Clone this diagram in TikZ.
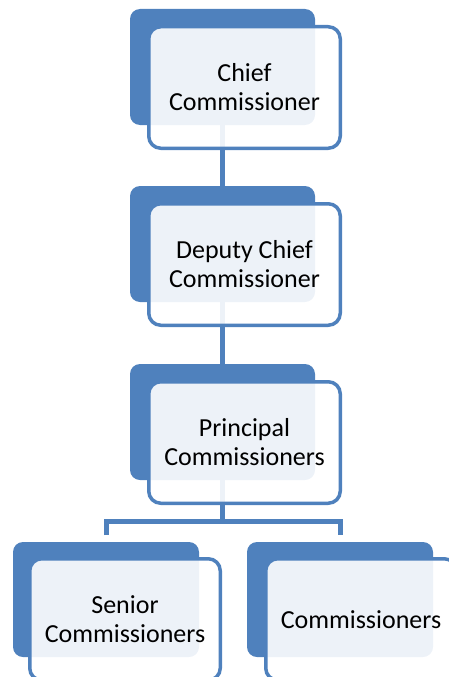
\documentclass[tikz,border=0pt]{standalone}
\usepackage{fontspec}
\setmainfont{Carlito}
\pgfdeclarelayer{links}
\pgfsetlayers{links,main}
\definecolor{accent}{RGB}{79,129,189}
\tikzset{
  backcard/.style={rectangle, rounded corners=10pt, fill=accent, draw=none,
    minimum width=185pt, minimum height=116pt, inner sep=0pt},
  frontcard/.style={rectangle, rounded corners=12pt, draw=accent, line width=3.5pt,
    fill=white, fill opacity=0.9, text opacity=1,
    minimum width=191.5pt, minimum height=121.5pt, inner sep=0pt,
    align=center, font=\fontsize{26}{29}\selectfont},
  link/.style={draw=accent, line width=5pt},
}
\begin{document}
\begin{tikzpicture}[x=1pt,y=-1pt]
  \useasboundingbox (0,0) rectangle (449,677);
  \begin{scope}
    \clip (0,0) rectangle (449,677);
    % top-down chain of cards
    \node[backcard] (b1) at (222.5,67) {};
    \node[frontcard] (f1) at (244.5,87.5) {Chief\\Commissioner};
    \node[backcard] (b2) at (222.5,244) {};
    \node[frontcard] (f2) at (244.5,264.5) {Deputy Chief\\Commissioner};
    \node[backcard] (b3) at (222.5,422) {};
    \node[frontcard] (f3) at (244.5,442.5) {Principal\\Commissioners};
    % two cards on the lowest level
    \node[backcard, minimum width=186pt, minimum height=115pt] (b4) at (106,599.5) {};
    \node[frontcard, minimum width=190.5pt] (f4) at (125,619.5) {Senior\\Commissioners};
    \node[backcard, minimum width=186pt, minimum height=115pt] (b5) at (340,599.5) {};
    \node[frontcard, minimum width=190.5pt] (f5) at (361,619.5) {Commissioners};
    % connectors behind the cards
    \begin{pgfonlayer}{links}
      \draw[link] (b1.south) -- (b2.north);
      \draw[link] (b2.south) -- (b3.north);
      \coordinate (fork) at (222.5,521);
      \coordinate (l4) at (106,535);
      \coordinate (l5) at (340,535);
      \draw[link] (b3.south) -- (fork);
      \draw[link] (l4) |- (fork) -| (l5);
    \end{pgfonlayer}
  \end{scope}
\end{tikzpicture}
\end{document}
